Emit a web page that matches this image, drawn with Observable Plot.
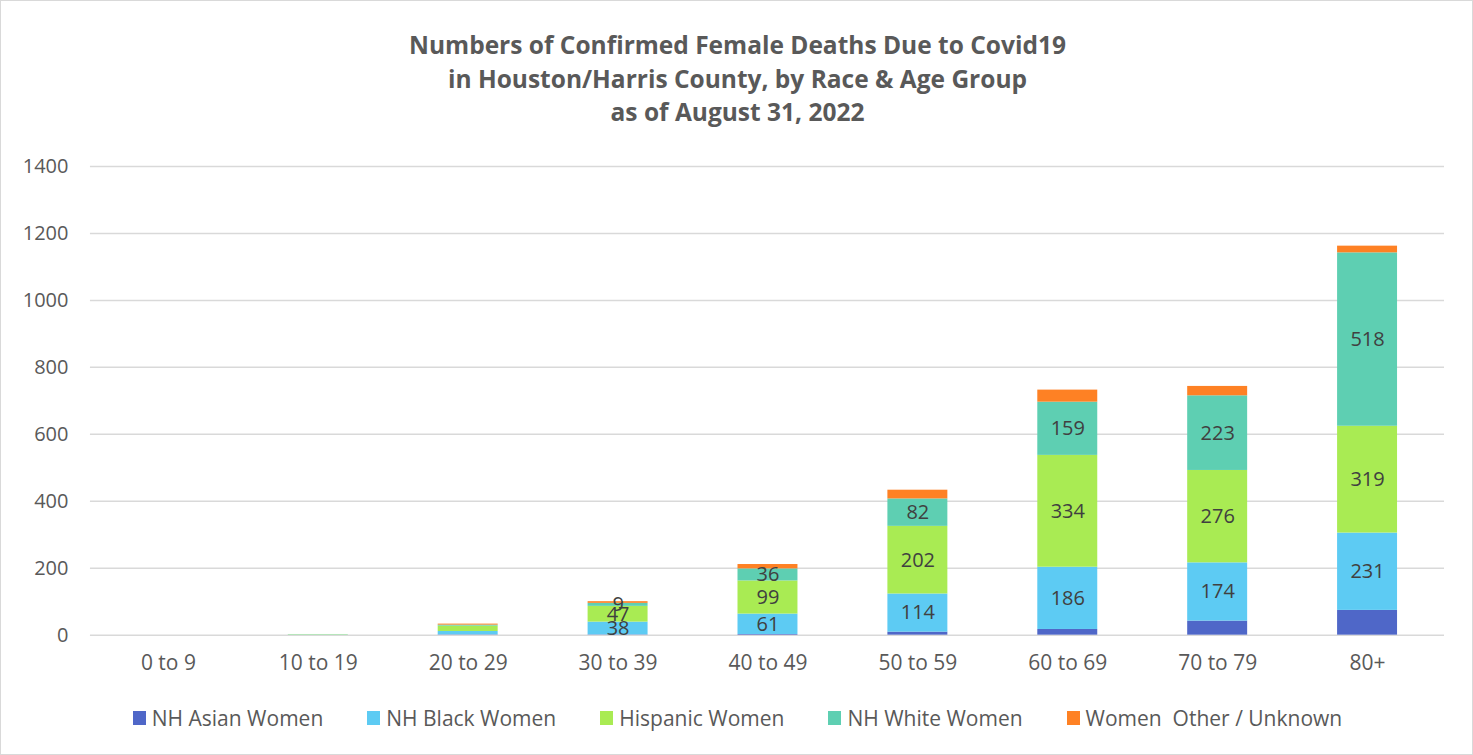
<!DOCTYPE html>
<html>
<head>
<meta charset="utf-8">
<script src="https://cdn.jsdelivr.net/npm/d3@7"></script>
<script src="https://cdn.jsdelivr.net/npm/@observablehq/plot@0.6"></script>
<style>
  html, body { margin: 0; padding: 0; background: #fff; }
  #frame { position: relative; width: 1471px; height: 753px; border: 1px solid #d9d9d9; background: #fff; overflow: hidden; font-family: "Open Sans", sans-serif; }
  #title { position: absolute; left: 0; top: 27px; width: 1473px; text-align: center; font-weight: bold; font-size: 24.5px; line-height: 33.5px; color: #595959; }
  #chart { position: absolute; left: -1px; top: 139px; }
  #legend { position: absolute; left: 0; top: 703px; width: 1473px; display: flex; justify-content: center; gap: 44px; font-size: 21px; color: #595959; white-space: pre; }
  .item { display: flex; align-items: center; gap: 6px; }
  .sw { width: 13px; height: 14px; display: inline-block; }
</style>
</head>
<body>
<div id="frame">
  <div id="title">Numbers of Confirmed Female Deaths Due to Covid19<br>in Houston/Harris County, by Race &amp; Age Group<br>as of August 31, 2022</div>
  <div id="chart"></div>
  <div id="legend"></div>
</div>
<script>
const ageGroups = ["0 to 9", "10 to 19", "20 to 29", "30 to 39", "40 to 49", "50 to 59", "60 to 69", "70 to 79", "80+"];
const seriesNames = ["NH Asian Women", "NH Black Women", "Hispanic Women", "NH White Women", "Women  Other / Unknown"];
const seriesColors = ["#4F67C8", "#5DCBF3", "#A9EB53", "#5ECFB2", "#FE8124"];
const asianWomen    = [0, 0, 1, 1, 2, 9, 17, 42, 74];
const blackWomen    = [0, 1, 10, 38, 61, 114, 186, 174, 231];
const hispanicWomen = [0, 1, 16, 47, 99, 202, 334, 276, 319];
const whiteWomen    = [0, 0, 3, 9, 36, 82, 159, 223, 518];
const otherWomen    = [0, 0, 3, 5, 13, 26, 36, 28, 20];
const labeledSeries = ["NH Black Women", "Hispanic Women", "NH White Women"];
const firstLabeledAge = 3;
const yTicks = [0, 200, 400, 600, 800, 1000, 1200, 1400];

const seriesValues = [asianWomen, blackWomen, hispanicWomen, whiteWomen, otherWomen];
const rows = [];
seriesNames.forEach((s, si) => {
  ageGroups.forEach((a, ai) => {
    rows.push({age: a, race: s, value: seriesValues[si][ai],
      label: (labeledSeries.includes(s) && ai >= firstLabeledAge) ? String(seriesValues[si][ai]) : ""});
  });
});

const chart = Plot.plot({
  width: 1473,
  height: 545,
  marginLeft: 90,
  marginRight: 28,
  marginTop: 26,
  marginBottom: 50,
  style: {fontFamily: "'Open Sans', sans-serif", background: "transparent"},
  x: {domain: ageGroups, paddingInner: 0.6, paddingOuter: 0.3, label: null},
  y: {domain: [0, 1400], ticks: yTicks, label: null},
  color: {domain: seriesNames, range: seriesColors},
  marks: [
    Plot.ruleY(yTicks, {stroke: "#d9d9d9", strokeWidth: 1.5}),
    Plot.barY(rows, {x: "age", y: "value", fill: "race", z: "race"}),
    Plot.text(rows, Plot.stackY({x: "age", y: "value", z: "race", text: "label", fill: "#404040", fontSize: 20})),
    Plot.axisX({tickSize: 0, tickPadding: 20, fontSize: 21, label: null}),
    Plot.axisY({ticks: yTicks, tickFormat: d => String(d), tickSize: 0, tickPadding: 22, fontSize: 20, label: null})
  ]
});
chart.querySelectorAll("g[aria-label='x-axis tick label'], g[aria-label='y-axis tick label']").forEach(g => g.setAttribute("fill", "#595959"));
document.getElementById("chart").appendChild(chart);

const legend = document.getElementById("legend");
seriesNames.forEach((s, i) => {
  const it = document.createElement("div");
  it.className = "item";
  const sw = document.createElement("span");
  sw.className = "sw";
  sw.style.background = seriesColors[i];
  const tx = document.createElement("span");
  tx.textContent = s;
  it.appendChild(sw);
  it.appendChild(tx);
  legend.appendChild(it);
});
</script>
</body>
</html>
